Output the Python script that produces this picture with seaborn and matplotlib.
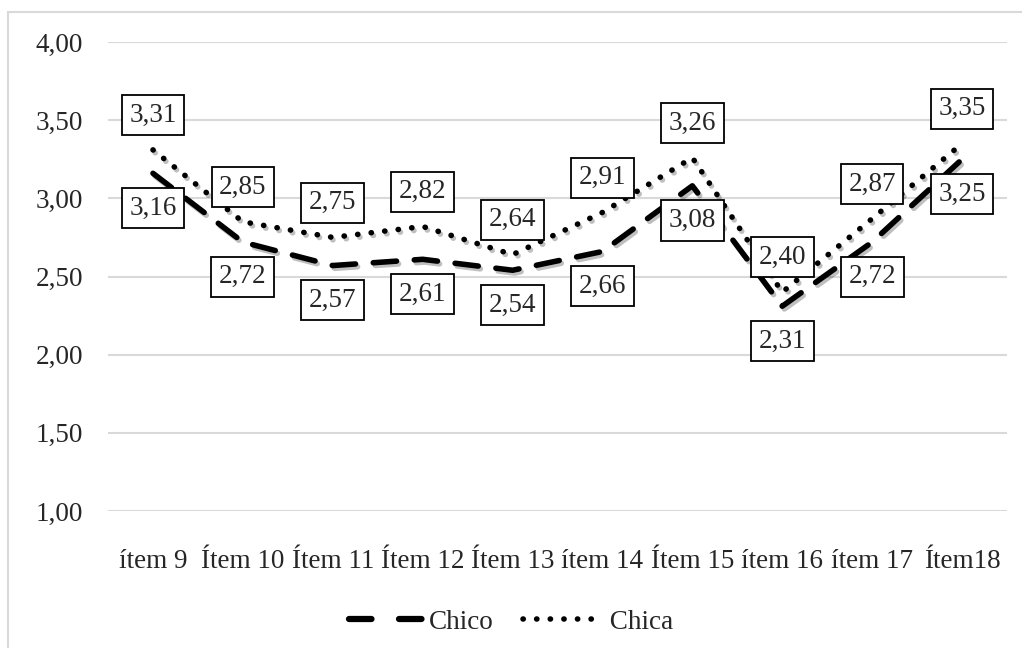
import numpy as np
import pandas as pd
import seaborn as sns
import matplotlib.pyplot as plt
import matplotlib.patheffects as pe
from matplotlib.patches import Rectangle
from matplotlib.lines import Line2D

# Data
items = ["ítem 9", "Ítem 10", "Ítem 11", "Ítem 12", "Ítem 13",
         "ítem 14", "Ítem 15", "ítem 16", "ítem 17", "Ítem18"]
chico = [3.16, 2.72, 2.57, 2.61, 2.54, 2.66, 3.08, 2.31, 2.72, 3.25]
chica = [3.31, 2.85, 2.75, 2.82, 2.64, 2.91, 3.26, 2.40, 2.87, 3.35]
y_ticks = [1.0, 1.5, 2.0, 2.5, 3.0, 3.5, 4.0]

df = pd.DataFrame({"Item": items * 2,
                   "Valor": chico + chica,
                   "Grupo": ["Chico"] * len(items) + ["Chica"] * len(items)})
df["pos"] = list(range(len(items))) * 2

sns.set_style("white")
plt.rcParams["font.family"] = ["Liberation Serif", "DejaVu Serif"]
FS = 19.5
LW = 4.0
DASH = (4.2, 3.2)
DOT = (0.05, 2.4)

fig = plt.figure(figsize=(10.22, 6.48), dpi=100)
ax = fig.add_axes([0.1057, 0.2114, 0.8796, 0.7238])

shadow = [pe.SimpleLineShadow(offset=(1.5, -2), alpha=0.25, rho=0.6), pe.Normal()]

sns.lineplot(data=df, x="pos", y="Valor", hue="Grupo", style="Grupo",
             palette={"Chico": "black", "Chica": "black"},
             dashes={"Chico": DASH, "Chica": DOT},
             linewidth=LW, ax=ax, legend=False)
for line in ax.lines:
    line.set_dash_capstyle("round")
    line.set_solid_capstyle("round")
    line.set_path_effects(shadow)

# value labels
box = dict(boxstyle="square,pad=0.28", fc="white", ec="black", lw=1.3)
for i, v in enumerate(chico):
    ax.annotate(f"{v:.2f}".replace(".", ","), (i, v), xytext=(0, -25),
                textcoords="offset points", ha="center", va="center",
                fontsize=FS, bbox=box, zorder=5)
for i, v in enumerate(chica):
    ax.annotate(f"{v:.2f}".replace(".", ","), (i, v), xytext=(0, 25),
                textcoords="offset points", ha="center", va="center",
                fontsize=FS, bbox=box, zorder=5)

ax.set_xlim(-0.5, len(items) - 0.5)
ax.set_ylim(1.0, 4.0)
ax.set_xticks(range(len(items)))
ax.set_xticklabels(items)
ax.set_yticks(y_ticks)
ax.set_yticklabels([f"{t:.2f}".replace(".", ",") for t in y_ticks])
ax.tick_params(axis="x", length=0, pad=27, labelsize=FS)
ax.tick_params(axis="y", length=0, pad=18, labelsize=FS)
ax.set_xlabel("")
ax.set_ylabel("")
ax.grid(axis="y", color="#d9d9d9", lw=1.5)
ax.set_axisbelow(True)
sns.despine(ax=ax, left=True, bottom=True)

# legend
h1 = Line2D([], [], color="black", lw=LW + 0.5, ls=(0, (3.6, 4.4)), dash_capstyle="round")
h2 = Line2D([], [], color="black", lw=LW, ls=(0, DOT), dash_capstyle="round")
fig.legend([h1, h2], ["Chico", " Chica"], loc="center", bbox_to_anchor=(0.5, 0.04),
           ncol=2, frameon=False, fontsize=FS, handlelength=2.9,
           handletextpad=0.05, columnspacing=1.1)

# chart border
fig.patches.append(Rectangle((8 / 1022, -0.1), 1.2, 1 - 12 / 648 + 0.1,
                             transform=fig.transFigure, fill=False,
                             ec="#d9d9d9", lw=1.5))

fig.savefig("out.png", dpi=100)
